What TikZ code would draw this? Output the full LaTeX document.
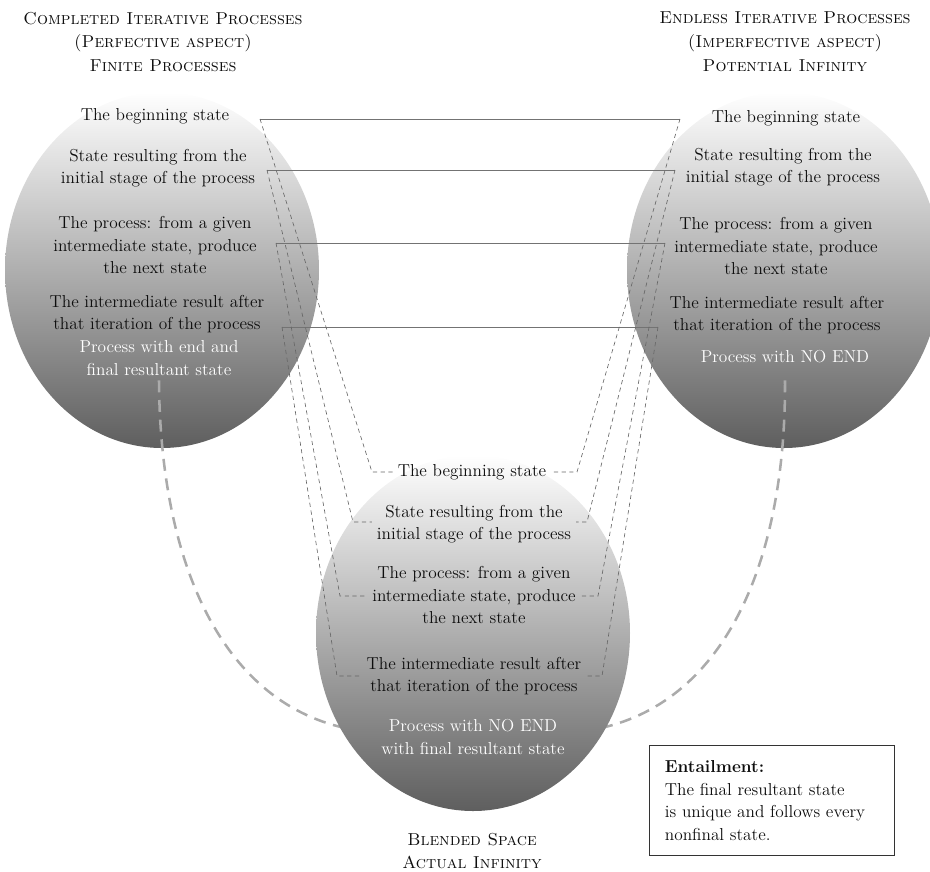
\documentclass[tikz,border=0pt]{standalone}
\usetikzlibrary{shapes,arrows.meta,positioning,calc}
\usepackage{xcolor}

\begin{document}
\begin{tikzpicture}[x=0.025cm, y=-0.025cm,
    every node/.style={font=\fontsize{12.3}{16}\selectfont, text=black!95, align=center},
    head/.style={font=\fontsize{12.3}{17}\selectfont\scshape},
    light/.style={text=white},
    blob/.style={top color=white, middle color=black!7, bottom color=black!63},
    link/.style={draw=black!55, line width=0.6pt},
    dlink/.style={draw=black!60, line width=0.45pt, dash pattern=on 3pt off 2.5pt},
    thread/.style={draw=black!33, line width=1.8pt, dash pattern=on 8.5pt off 5.5pt}]
    \useasboundingbox (0,0) rectangle (930,871);

    \shade[blob] (162,270) ellipse (157 and 178);
    \shade[blob] (784,270) ellipse (157 and 178);

    \node[head] (lhead) at (163,42) {Completed Iterative Processes\\(Perfective aspect)\\Finite Processes};
    \node[head] (rhead) at (785,42) {Endless Iterative Processes\\(Imperfective aspect)\\Potential Infinity};

    \node (lt1) at (155,116) {The beginning state};
    \node (lt2) at (158,168) {State resulting from the\\initial stage of the process};
    \node (lt3) at (155,245) {The process: from a given\\intermediate state, produce\\the next state};
    \node (lt4) at (157,314) {The intermediate result after\\that iteration of the process};
    \node[light] (lt5) at (159,358) {Process with end and\\final resultant state};

    \node (rt1) at (786,118) {The beginning state};
    \node (rt2) at (783,167) {State resulting from the\\initial stage of the process};
    \node (rt3) at (776,246) {The process: from a given\\intermediate state, produce\\the next state};
    \node (rt4) at (777,315) {The intermediate result after\\that iteration of the process};
    \node[light] (rt5) at (785,357) {Process with NO END};

    \coordinate (bjl) at (345,728);
    \coordinate (bjr) at (601,728);
    \draw[thread] (lt5.south) .. controls (160,560) and (220,700) .. (bjl);
    \draw[thread] (rt5.south |- lt5.south) .. controls (786,560) and (726,700) .. (bjr);

    \shade[blob] (473,633) ellipse (157 and 178);

    \node (bt1) at (472,472) {The beginning state};
    \node (bt2) at (474,524) {State resulting from the\\initial stage of the process};
    \node (bt3) at (474,595) {The process: from a given\\intermediate state, produce\\the next state};
    \node (bt4) at (474,676) {The intermediate result after\\that iteration of the process};
    \node[light] (bt5) at (473,737) {Process with NO END\\with final resultant state};

    \node[head] (bhead) at (472,851) {Blended Space\\Actual Infinity};

    \coordinate (l1) at (260,119); \coordinate (r1) at (680,119);
    \coordinate (l2) at (267,170); \coordinate (r2) at (675,170);
    \coordinate (l3) at (276,243); \coordinate (r3) at (665,243);
    \coordinate (l4) at (282,327); \coordinate (r4) at (658,327);
    \coordinate (bl1) at (372,472); \coordinate (br1) at (577,472);
    \coordinate (bl2) at (353,522); \coordinate (br2) at (587,522);
    \coordinate (bl3) at (340,596); \coordinate (br3) at (598,596);
    \coordinate (bl4) at (337,676); \coordinate (br4) at (602,676);

    \draw[link] (l1) -- (r1);
    \draw[link] (l2) -- (r2);
    \draw[link] (l3) -- (r3);
    \draw[link] (l4) -- (r4);
    \draw[dlink] (l1) -- (bl1) -- (bl1 -| bt1.west);
    \draw[dlink] (l2) -- (bl2) -- (bl2 -| bt2.west);
    \draw[dlink] (l3) -- (bl3) -- (bl3 -| bt3.west);
    \draw[dlink] (l4) -- (bl4) -- (bl4 -| bt4.west);
    \draw[dlink] (r1) -- (br1) -- (br1 -| bt1.east);
    \draw[dlink] (r2) -- (br2) -- (br2 -| bt2.east);
    \draw[dlink] (r3) -- (br3) -- (br3 -| bt3.east);
    \draw[dlink] (r4) -- (br4) -- (br4 -| bt4.east);

    \node[draw=black!80, line width=0.6pt, anchor=north west, align=left,
          minimum width=6.125cm, minimum height=2.75cm, text width=6.125cm-22pt, inner xsep=11pt]
          (entail) at (649,745) {\textbf{Entailment:}\\The final resultant state\\is unique and follows every\\nonfinal state.};
\end{tikzpicture}
\end{document}
